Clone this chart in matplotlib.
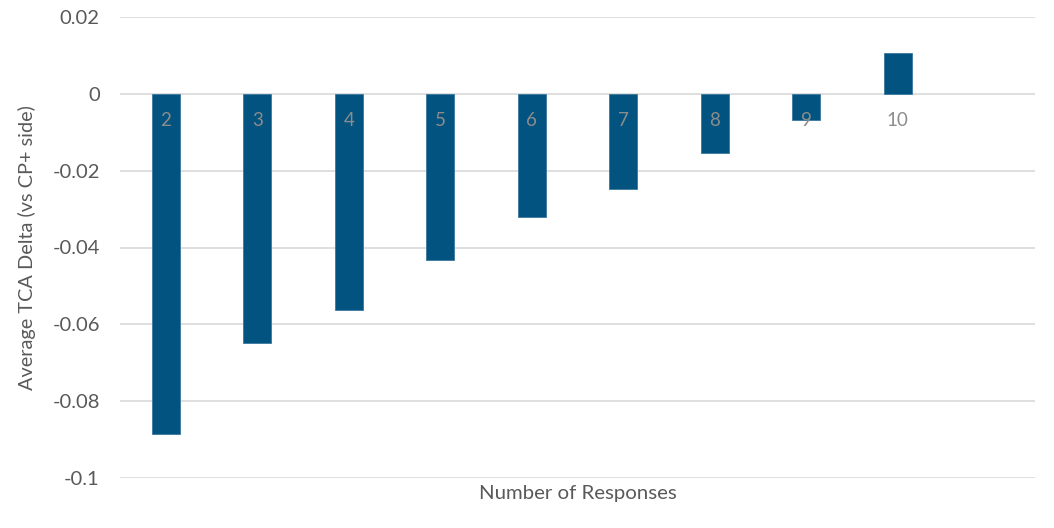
import matplotlib
matplotlib.use("Agg")
import matplotlib.pyplot as plt

categories = ["2", "3", "4", "5", "6", "7", "8", "9", "10"]
values = [-0.0885, -0.0648, -0.0563, -0.0432, -0.0320, -0.0247, -0.0154, -0.0068, 0.0107]
yticks = [-0.1, -0.08, -0.06, -0.04, -0.02, 0, 0.02]
ytick_labels = ["-0.1", "-0.08", "-0.06", "-0.04", "-0.02", "0", "0.02"]

plt.rcParams['font.family'] = ['Lato', 'DejaVu Sans']

fig = plt.figure(figsize=(10.54, 5.28), dpi=100)
ax = fig.add_axes([120/1054, 1 - 478/528, 915/1054, 461/528])

x = list(range(len(categories)))
ax.bar(x, values, width=0.31, color="#02537f", edgecolor="#3a78a0", linewidth=0.6, zorder=3)

for xi, lab in zip(x, categories):
    ax.annotate(lab, xy=(xi, 0), xytext=(0, -19), textcoords="offset points",
                ha="center", va="center", fontsize=13.5, color="#8c8c8c", zorder=5)

ax.set_xlim(-0.5, 9.5)
ax.set_ylim(-0.1, 0.02)
ax.set_yticks(yticks)
ax.set_yticklabels(ytick_labels)
ax.set_xticks([])
ax.grid(axis="y", color="#d9d9d9", linewidth=1.2, zorder=0)
ax.set_axisbelow(True)
for s in ax.spines.values():
    s.set_visible(False)
ax.tick_params(axis="y", length=0, pad=14.5, labelsize=14.5, labelcolor="#595959")

ax.set_ylabel("Average TCA Delta (vs CP+ side)", fontsize=14.3, color="#595959", labelpad=12)
ax.set_xlabel("Number of Responses", fontsize=14.7, color="#595959", labelpad=5)

fig.savefig("out.png", dpi=100)
